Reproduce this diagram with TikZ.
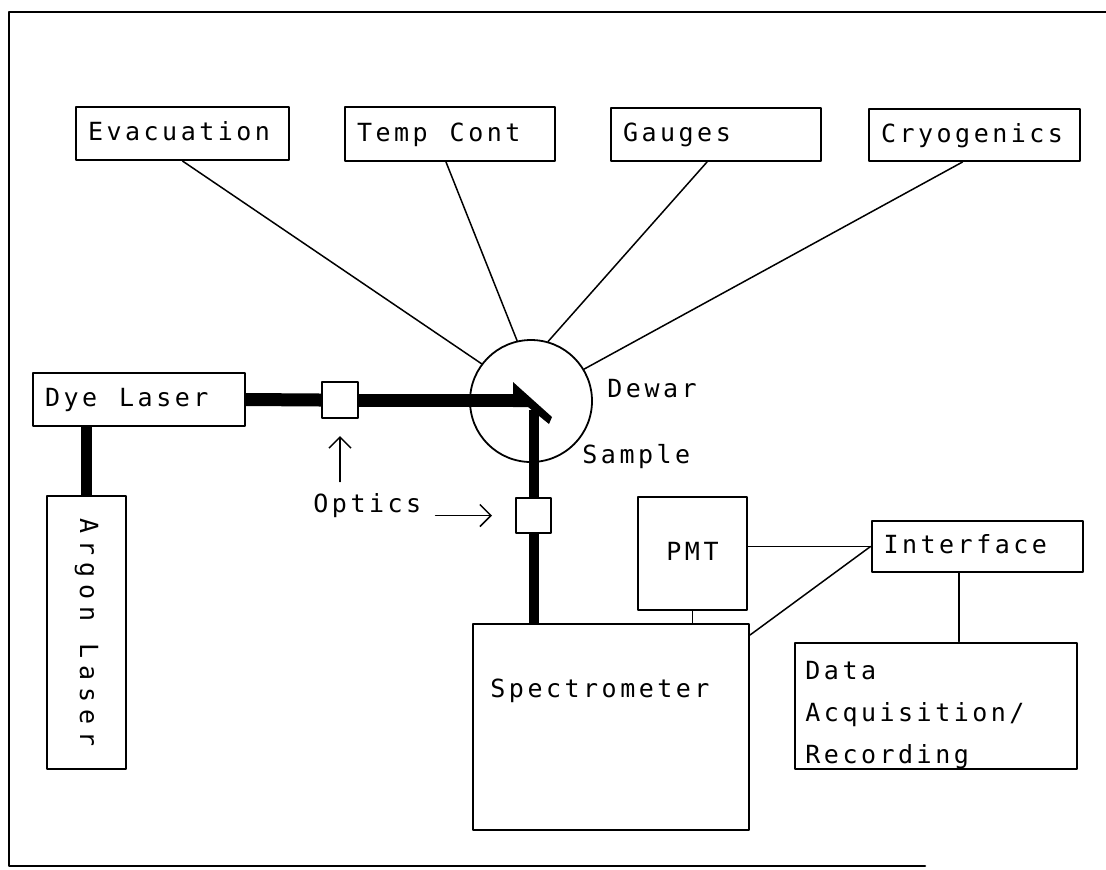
\documentclass[tikz,border=0pt]{standalone}
\usepackage{fontspec}
\newfontfamily\plotfont[LetterSpace=14]{DejaVu Sans Mono}
\newfontfamily\plotfontwide[LetterSpace=28]{DejaVu Sans Mono}
\newcommand\wsp{\hspace{11pt}}
\usetikzlibrary{arrows.meta,calc}

\begin{document}
\begin{tikzpicture}[x=0.5pt,y=-0.5pt,line join=round,line cap=round,
		>={Straight Barb[length=5.5pt,width=11pt]},
		every node/.style={font=\plotfont\fontsize{12.5}{21}\selectfont},
		unit/.style={draw,line width=1pt,inner xsep=6pt,inner ysep=0pt,align=left,text height=9.5pt,text depth=2.5pt},
		part/.style={draw,line width=1pt,inner sep=0pt},
		link/.style={line width=.75pt},
		beam/.style={line width=#1,line cap=butt}]
	\useasboundingbox (0,0) rectangle (1106,869);
	% frame (open on the right)
	\draw[line width=1.3pt] (1106,12)--(9,12)--(9,866)--(925,866);
	% units on the cryostat
	\node[unit,text width=94.5pt,minimum height=26.5pt] (evac) at (182.5,133.5) {Evacuation};
	\node[unit,text width=93pt,minimum height=27pt] (temp) at (450,134) {Temp\wsp Cont};
	\node[unit,text width=93pt,minimum height=26.5pt] (gauge) at (716,134.5) {Gauges};
	\node[unit,text width=93.5pt,minimum height=26pt] (cryo) at (974.5,135) {Cryogenics};
	\node[draw,circle,line width=.9pt,minimum size=61pt,inner sep=0pt] (dewar) at (531,401) {};
	\node[anchor=base west,inner sep=0pt] (dewarlbl) at (607,397) {Dewar};
	\node[anchor=base west,inner sep=0pt] (samplelbl) at (582,463) {Sample};
	\draw[link] (evac.south)--(dewar.143);
	\draw[link] ([xshift=-2pt]temp.south)--(dewar.103);
	\draw[link] ([xshift=-4.5pt]gauge.south)--(dewar.74);
	\draw[link] ([xshift=-6pt]cryo.south)--(dewar.31);
	% lasers and optics
	\node[unit,text width=94pt,minimum height=26.5pt] (dye) at (139,399.5) {Dye\wsp Laser};
	\node[part,minimum width=39.5pt,minimum height=136.5pt] (argon) at (86.5,632.5) {};
	\node[rotate=-90,font=\plotfontwide\fontsize{12.5}{21}\selectfont] (argontxt) at (argon) {Argon\wsp Laser};
	\node[part,fill=white,minimum size=18pt] (optA) at (340,400) {};
	\node[part,fill=white,minimum size=17.5pt] (optB) at (533.5,515.5) {};
	\node[anchor=base west,inner sep=0pt] (opticslbl) at (313,512) {Optics};
	\coordinate (beamin) at (522,400);
	\coordinate (beamout) at (533.5,410);
	\draw[beam=5.5pt] (argon.north |- dye.south)--(argon.north);
	\draw[beam=6.5pt] (dye.east)--(optA.west);
	\draw[beam=6.5pt] (optA.east)--(beamin);
	\fill (513,382)--(552,417)--(549,424)--(528,407)--(513,407)--cycle;
	\draw[beam=5pt] (beamout)--(optB.north);
	\draw[link,->,shorten >=8.5pt] ([yshift=5.5pt]opticslbl.north -| optA)--(optA.south);
	\draw[link,->,shorten <=7pt,shorten >=11.5pt] (opticslbl.east |- optB)--(optB.west);
	% detection
	\node[part,minimum width=138pt,minimum height=103pt] (spec) at (611,727) {};
	\node[anchor=base west,inner sep=0pt] (spectxt) at (490,697) {Spectrometer};
	\node[unit,align=center,minimum width=54.5pt,minimum height=56.5pt] (pmt) at (692.5,553.5) {PMT};
	\node[unit,text width=93.5pt,minimum height=25.5pt] (iface) at (977,546.5) {Interface};
	\node[part,minimum width=141pt,minimum height=63pt] (data) at (936,705.5) {};
	\node[anchor=north west,inner sep=0pt,align=left] (datatxt) at (805,661) {Data\\Acquisition/\\Recording};
	\draw[beam=5pt] (optB.south)--(optB |- spec.north);
	\draw[link] (pmt.south)--(pmt.south |- spec.north);
	\draw[link] (pmt.east |- iface.west)--(iface.west);
	\draw[link] ([yshift=-6pt]spec.north east)--(iface.west);
	\draw[link] ([xshift=-9pt]iface.south)--([xshift=-9pt]iface.south |- data.north);
\end{tikzpicture}
\end{document}
